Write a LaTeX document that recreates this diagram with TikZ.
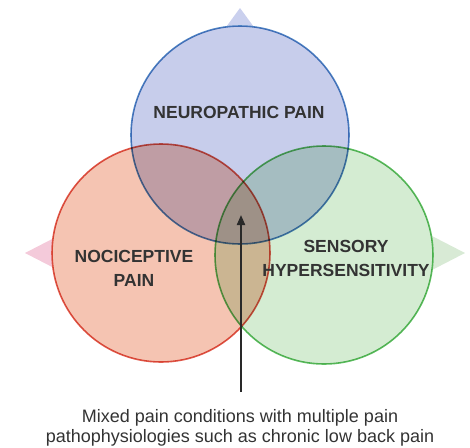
\documentclass[tikz,border=0pt]{standalone}
\usepackage{fontspec}
\setmainfont{Liberation Sans}
\usetikzlibrary{arrows.meta}

\definecolor{neurofill}{HTML}{C7CDEB}
\definecolor{neuroline}{HTML}{4F84C4}
\definecolor{neurotip}{HTML}{CAD0EE}
\definecolor{nocifill}{HTML}{F5C4B2}
\definecolor{nociline}{HTML}{E0584A}
\definecolor{nocitip}{HTML}{F4CADA}
\definecolor{sensefill}{HTML}{D4ECD2}
\definecolor{senseline}{HTML}{5CBD5F}
\definecolor{sensetip}{HTML}{D8EAD5}
\definecolor{labelgray}{HTML}{333333}

\begin{document}
\begin{tikzpicture}[x=1pt,y=-1pt,
    venn/.style={circle,minimum size=218pt,inner sep=0pt,line width=1.6pt},
    paintext/.style={font=\bfseries\fontsize{17.5}{24}\selectfont,text=labelgray,align=center,inner sep=0pt},
    captext/.style={font=\fontsize{18}{20}\selectfont,text=labelgray,align=center,inner sep=0pt}]
  \useasboundingbox (0,0) rectangle (470,447);

  % pointers behind the circles
  \fill[neurotip] (240,8) -- (221,34) -- (259,34) -- cycle;
  \fill[nocitip]  (25,253) -- (58,236) -- (58,270) -- cycle;
  \fill[sensetip] (465,253) -- (432,236) -- (432,270) -- cycle;

  % the three sets
  \begin{scope}[blend group=multiply]
    \node[venn,fill=neurofill,draw=neuroline] (neuro) at (240,135) {};
    \node[venn,fill=nocifill,draw=nociline]   (noci)  at (161,253) {};
    \node[venn,fill=sensefill,draw=senseline] (sense) at (324,255) {};
  \end{scope}

  \node[paintext] (neurolbl) at (239,112) {NEUROPATHIC PAIN};
  \node[paintext] (nocilbl)  at (134,268) {NOCICEPTIVE\\PAIN};
  \node[paintext] (senselbl) at (346,258) {SENSORY\\HYPERSENSITIVITY};

  \coordinate (mid) at (241,215);
  \node[captext,anchor=north] (cap) at (240,409)
    {Mixed pain conditions with multiple pain\\pathophysiologies such as chronic low back pain};
  \draw[labelgray!80!black,line width=2pt,-{Triangle[length=10pt,width=8pt]}]
    ([yshift=17pt]cap.north -| mid) -- (mid);
\end{tikzpicture}
\end{document}
